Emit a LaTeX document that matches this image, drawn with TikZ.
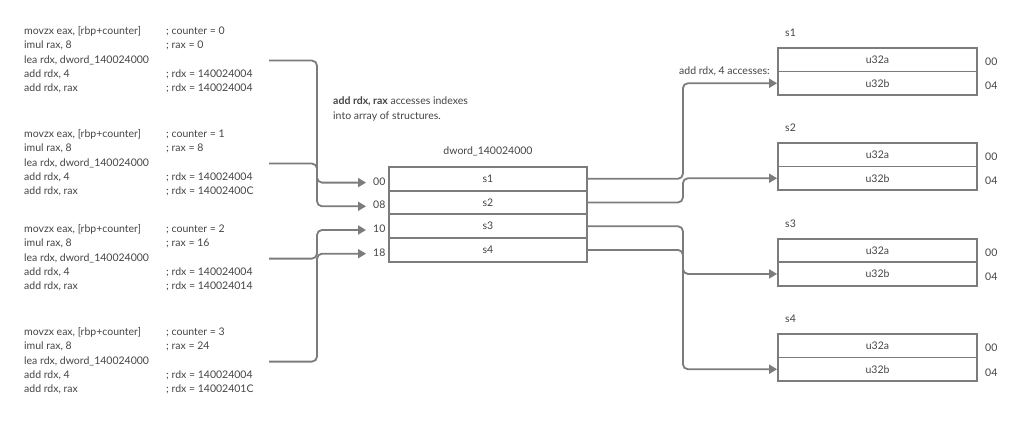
\documentclass[tikz,border=0pt]{standalone}
\usepackage{fontspec}
\setmainfont{Lato}
\usetikzlibrary{arrows.meta}
\definecolor{txt}{HTML}{444444}
\definecolor{ln}{HTML}{7c7c7c}
\begin{document}
\begin{tikzpicture}[x=1pt,y=-1pt, font=\fontsize{10.5}{12.5}\selectfont, text=txt,
 code/.style={anchor=west, inner sep=0pt, text height=7pt, text depth=2pt},
 cell/.style={draw=ln, line width=1.8pt, minimum width=198pt, minimum height=23.6pt, inner sep=0pt, text=txt},
 rcell/.style={cell, minimum width=199pt, minimum height=23.5pt},
 conn/.style={draw=ln, line width=1.8pt, rounded corners=5pt, -{Triangle[length=8pt,width=9pt]}},
 off/.style={anchor=west, inner sep=0pt, text height=7pt, text depth=2pt}]
\useasboundingbox (0,0) rectangle (1024,422);

% code blocks
\foreach \b/\y/\c/\r/\d in {1/32/0/0/140024004, 2/135/1/8/14002400C, 3/230/2/16/140024014, 4/333/3/24/14002401C} {
  \node[code] (b\b-l1) at (24,\y) {movzx eax, [rbp+counter]};
  \node[code] (b\b-c1) at (166,\y) {; counter = \c};
  \node[code] (b\b-l2) at (24,{\y+14.3}) {imul rax, 8};
  \node[code] (b\b-c2) at (166,{\y+14.3}) {; rax = \r};
  \node[code] (b\b-l3) at (24,{\y+28.6}) {lea rdx, dword\_140024000};
  \node[code] (b\b-l4) at (24,{\y+42.9}) {add rdx, 4};
  \node[code] (b\b-c4) at (166,{\y+42.9}) {; rdx = 140024004};
  \node[code] (b\b-l5) at (24,{\y+57.2}) {add rdx, rax};
  \node[code] (b\b-c5) at (166,{\y+57.2}) {; rdx = \d};
  \coordinate (s\b) at (269,{\y+28.6});
}

% annotation
\node[code] (ann1) at (333,102) {\textbf{add rdx, rax} accesses indexes};
\node[code] (ann2) at (333,117) {into array of structures.};

% array box
\node (title) at (488,151) {dword\_140024000};
\node[cell] (r1) at (488,178.8) {s1};
\node[cell] (r2) at (488,202.5) {s2};
\node[cell] (r3) at (488,226.2) {s3};
\node[cell] (r4) at (488,249.9) {s4};
\node[off] (o1) at (373,182.6) {00};
\node[off] (o2) at (373,206.3) {08};
\node[off] (o3) at (373,230.0) {10};
\node[off] (o4) at (373,253.7) {18};

% structure boxes
\foreach \i/\t in {1/48, 2/143, 3/238.7, 4/334} {
  \node[code] (sl\i) at (785,{\t-14}) {s\i};
  \node[rcell] (sa\i) at (877.5,{\t+11.75}) {u32a};
  \node[rcell] (sb\i) at (877.5,{\t+35.25}) {u32b};
  \node[off] (oa\i) at (985,{\t+15}) {00};
  \node[off] (ob\i) at (985,{\t+39.5}) {04};
}
\node[anchor=east, inner sep=0pt, text height=7pt, text depth=2pt] (acc) at (770,72) {add rdx, 4 accesses:};

% left connectors
\draw[conn] (s1) -- ++(48,0) |- ([xshift=-7pt]o1.west);
\draw[conn] (s2) -- ++(48,0) |- ([xshift=-7pt]o2.west);
\draw[conn] (s3) -- ++(48,0) |- ([xshift=-7pt]o3.west);
\draw[conn] (s4) -- ++(48,0) |- ([xshift=-7pt]o4.west);

% right connectors
\draw[conn] (r1.east) -- ++(95,0) |- (sb1.west);
\draw[conn] (r2.east) -- ++(95,0) |- (sb2.west);
\draw[conn] (r3.east) -- ++(95,0) |- (sb3.west);
\draw[conn] (r4.east) -- ++(95,0) |- (sb4.west);
\end{tikzpicture}
\end{document}
